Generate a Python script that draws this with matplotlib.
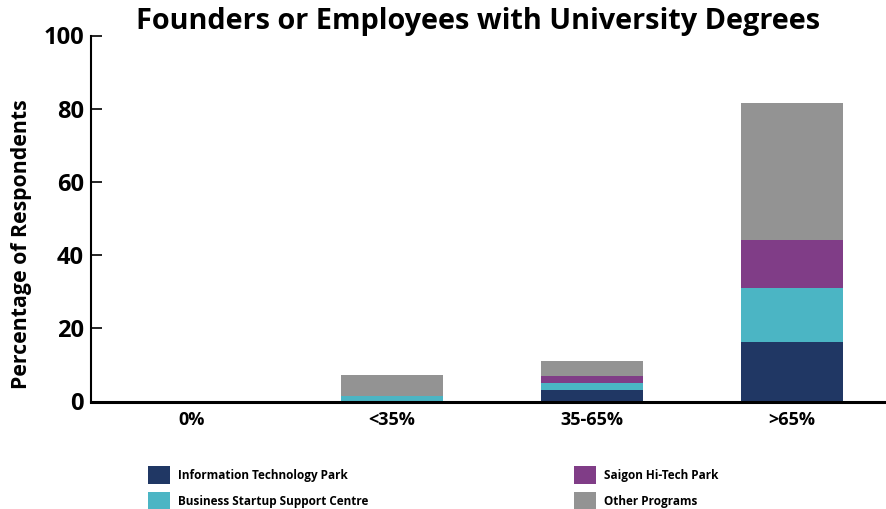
import matplotlib
matplotlib.use('Agg')
from matplotlib import pyplot as plt
from matplotlib.patches import Patch

plt.rcParams['font.family'] = ['Open Sans', 'DejaVu Sans']
plt.rcParams['font.weight'] = 'bold'

categorias = ['0%', '<35%', '35-65%', '>65%']

it_park = [0, 0, 3.2, 16.3]
startup_centre = [0, 1.5, 1.9, 14.7]
hitech_park = [0, 0, 1.9, 13.1]
outros = [0, 5.8, 4.1, 37.5]

nomes = ['Information Technology Park', 'Business Startup Support Centre',
         'Saigon Hi-Tech Park', 'Other Programs']
cores = ['#203764', '#4BB5C4', '#803D87', '#939393']

fig = plt.figure(figsize=(8.86, 5.09), dpi=100)
ax = fig.add_axes([91 / 886, 107.5 / 509, 795 / 886, 366 / 509])

x = range(len(categorias))
base = [0] * len(categorias)
for serie, cor in zip([it_park, startup_centre, hitech_park, outros], cores):
    ax.bar(x, serie, width=0.51, bottom=base, color=cor, zorder=2)
    base = [b + v for b, v in zip(base, serie)]

ax.set_xlim(-0.505, 3.47)
ax.set_ylim(0, 100)
ax.set_yticks([0, 20, 40, 60, 80, 100])
ax.set_xticks(list(x))
ax.set_xticklabels(categorias, fontsize=13, fontweight='bold')
ax.tick_params(axis='x', length=0, pad=7)
ax.tick_params(axis='y', direction='in', length=8, width=1.2, labelsize=17, pad=5)
for lbl in ax.get_yticklabels():
    lbl.set_fontweight('bold')

for lado in ['top', 'right']:
    ax.spines[lado].set_visible(False)
ax.spines['left'].set_linewidth(1.5)
ax.spines['bottom'].set_linewidth(2.2)
ax.spines['bottom'].set_zorder(3)

ax.set_ylabel('Percentage of Respondents', fontsize=15.3, fontweight='bold')
ax.yaxis.set_label_coords(-0.074, 0.43)
ax.set_title('Founders or Employees with University Degrees', fontsize=20.8,
             fontweight='bold', pad=2, x=0.487)

# legenda em duas colunas posicionadas separadamente
handles = [Patch(facecolor=c, edgecolor='none') for c in cores]
for idx, xpos in [((0, 1), 148 / 886), ((2, 3), 574 / 886)]:
    fig.legend([handles[i] for i in idx], [nomes[i] for i in idx],
               loc='upper left', bbox_to_anchor=(xpos, 1 - 466 / 509),
               frameon=False, handlelength=1.85, handleheight=1.95,
               handletextpad=0.7, labelspacing=0.68, borderpad=0, borderaxespad=0,
               prop={'weight': 'bold', 'size': 8.5})

fig.savefig('out.png', dpi=100)
